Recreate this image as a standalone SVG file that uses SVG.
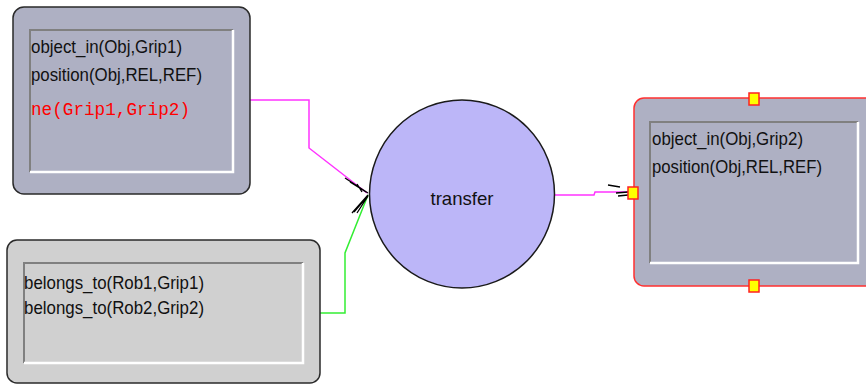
<svg xmlns="http://www.w3.org/2000/svg" width="866" height="385" viewBox="0 0 866 385">
<style>
.outer{stroke:#2a2a2a;stroke-width:1.5}
.blue{fill:#aeb0c3}
.grey{fill:#d0d0d0}
.dk{fill:none;stroke:#808080;stroke-width:2}
.lt{fill:none;stroke:#ffffff;stroke-width:2.5}
.t{font-family:"Liberation Sans",Arial,sans-serif;font-size:18.5px;fill:#111}
.r{font-family:"Liberation Mono","Courier New",monospace;font-size:19px;fill:#ff0000}
.h{fill:#ffff00;stroke:#ff2020;stroke-width:1.5}
.ah{fill:none;stroke:#000;stroke-width:1.3}
</style>
<rect width="866" height="385" fill="#ffffff"/>
<g id="connectors" fill="none" stroke-width="1.5">
<polyline points="250,100 309,100 309,148 367,193" stroke="#ff33ff"/>
<polyline points="320,313 345,313 345,253 368,195" stroke="#33ee33"/>
<polyline points="555,195 594,195 595,192 628,192" stroke="#ff33ff"/>
<path class="ah" d="M345,178 L368,193 M350,182 L366,192 M357,184 L362,192 M368,195 L352,213 M368,196 L357,213 M366,198 L354,212 M608,185 L620,187 M616,193 L628,192 M618,196 L628,195"/>
</g>
<g id="node1">
<rect class="outer blue" x="13" y="7" width="237" height="187" rx="11"/>
<polyline class="dk" points="30,172 30,30 233,30"/>
<polyline class="lt" points="30,172 233,172 233,30"/>
<text class="t" x="31" y="53" textLength="151" lengthAdjust="spacingAndGlyphs">object_in(Obj,Grip1)</text>
<text class="t" x="31" y="81" textLength="171" lengthAdjust="spacingAndGlyphs">position(Obj,REL,REF)</text>
<text class="r" x="31" y="115" textLength="159" lengthAdjust="spacingAndGlyphs">ne(Grip1,Grip2)</text>
</g>
<g id="node2">
<rect class="outer grey" x="7" y="240" width="313" height="143" rx="10"/>
<polyline class="dk" points="24,363 24,263 303,263"/>
<polyline class="lt" points="24,363 303,363 303,263"/>
<text class="t" x="24" y="289" textLength="180" lengthAdjust="spacingAndGlyphs">belongs_to(Rob1,Grip1)</text>
<text class="t" x="24" y="314" textLength="180" lengthAdjust="spacingAndGlyphs">belongs_to(Rob2,Grip2)</text>
</g>
<g id="node3">
<ellipse cx="462" cy="194" rx="92.5" ry="94" fill="#bcb6f8" stroke="#1a1a1a" stroke-width="1.5"/>
<text class="t" x="462" y="205" font-size="21" text-anchor="middle" textLength="63" lengthAdjust="spacingAndGlyphs">transfer</text>
</g>
<g id="node4">
<rect x="634" y="98" width="250" height="188" rx="10" fill="#aeb0c3" stroke="#ff3030" stroke-width="1.5"/>
<polyline class="dk" points="650,263 650,122 858,122"/>
<polyline class="lt" points="650,263 858,263 858,122"/>
<text class="t" x="652" y="145" textLength="151" lengthAdjust="spacingAndGlyphs">object_in(Obj,Grip2)</text>
<text class="t" x="652" y="173" textLength="170" lengthAdjust="spacingAndGlyphs">position(Obj,REL,REF)</text>
<rect class="h" x="749" y="93" width="10" height="12"/>
<rect class="h" x="749" y="280" width="10" height="12"/>
<rect class="h" x="628" y="187" width="10" height="12"/>
</g>
</svg>
